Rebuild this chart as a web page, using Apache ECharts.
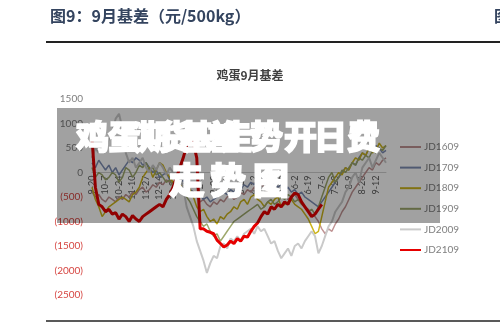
<!DOCTYPE html>
<html><head><meta charset="utf-8">
<script src="https://cdn.jsdelivr.net/npm/echarts@6/dist/echarts.min.js"></script>
<style>html,body{margin:0;padding:0;background:#fff}#c{width:500px;height:331px}</style>
</head><body><div id="c"></div>
<script>
const tickLabels = ['9-20','10-7','10-24','11-10','11-27','12-14','12-31','1-17','2-3','2-20','3-9','3-26','4-12','4-29','5-16','6-2','6-19','7-6','7-23','8-9','8-26','9-12'];
const pointsPerTick = 4;
const totalPoints = 88;
const seriesNames = ['JD1609','JD1709','JD1809','JD1909','JD2009','JD2109'];
const jd1609 = [-400,-500,-450,-550,-600,-500,-550,-600,-500,-550,-450,-500,-400,-450,-350,-300,-400,-350,-250,-300,-200,-250,-150,-200,-100,-150,-250,-300,-200,-350,-400,-500,-600,-550,-650,-700,-600,-650,-550,-600,-500,-450,-550,-500,-400,-450,-350,-400,-300,-350,-250,-300,-400,-350,-450,-400,-500,-450,-550,-500,-450,-550,-600,-700,-750,-850,-900,-1000,-1150,-1250,-1150,-1200,-1050,-950,-800,-700,-550,-400,-300,-200,-100,0,100,50,200,150,250,300];
const jd1709 = [200,100,250,150,50,150,0,100,-50,50,150,250,200,300,250,150,200,100,0,50,-100,-50,0,-150,-100,-200,-250,-150,-300,-350,-400,-500,-450,-550,-500,-600,-550,-500,-450,-400,-450,-350,-400,-300,-350,-250,-300,-200,-250,-150,-200,-100,-150,-250,-200,-300,-250,-350,-300,-400,-350,-450,-400,-500,-550,-600,-650,-700,-600,-500,-400,-300,-200,-100,0,100,50,200,150,300,400,350,500,450,550,500,400,450];
const jd1809 = [-300,-550,-700,-900,-800,-700,-650,-600,-550,-500,-550,-600,-450,-400,-300,-100,0,100,-100,50,200,150,0,-100,-200,-150,-250,-300,-200,-350,-500,-700,-800,-750,-900,-1000,-950,-1050,-900,-950,-850,-800,-700,-750,-600,-550,-650,-500,-450,-550,-600,-700,-600,-650,-550,-500,-700,-650,-600,-550,-650,-700,-750,-850,-950,-1100,-1250,-1200,-900,-600,-300,-200,-100,0,-50,100,50,200,300,250,400,350,500,400,450,600,500,550];
const jd1909 = [100,-100,0,-50,-150,-100,0,-50,-200,-100,100,50,-100,0,150,100,200,50,100,-50,0,-100,-200,-150,-300,-250,-350,-400,-500,-600,-750,-900,-1000,-1100,-1050,-1200,-1300,-1250,-1400,-1300,-1200,-1100,-1000,-950,-900,-850,-800,-750,-700,-650,-750,-700,-600,-550,-650,-600,-500,-550,-450,-500,-600,-550,-650,-700,-800,-750,-850,-700,-500,-300,-100,0,-200,-100,50,0,100,200,150,300,250,350,300,450,400,500,450,550];
const jd2009 = [300,500,400,600,450,700,800,1100,1200,900,400,200,300,100,200,300,100,0,150,50,200,100,-50,100,0,-150,-100,-300,-700,-900,-1100,-1400,-1600,-1800,-2050,-1850,-1700,-1750,-1500,-1450,-1550,-1350,-1400,-1300,-1400,-1250,-1200,-1150,-1250,-1100,-1200,-1150,-1300,-1450,-1400,-1600,-1750,-1650,-1550,-1700,-1500,-1450,-1550,-1400,-1300,-1200,-1300,-1650,-1500,-1300,-1100,-1000,-800,-700,-600,-400,-300,-100,0,-200,100,200,300,100,250,400,300,200];
const jd2109 = [700,-300,-650,-700,-800,-750,-850,-820,-950,-850,-900,-1000,-880,-950,-1000,-900,-850,-800,-750,-700,-650,-700,-550,-450,-300,-100,100,300,550,700,600,300,-1150,-1150,-1200,-1220,-1250,-1380,-1450,-1520,-1480,-1400,-1450,-1350,-1400,-1300,-1320,-1200,-1100,-1030,-900,-800,-850,-700,-750,-650,-700,-600,-650,-500,-420,-450,-600,-700,-800,-900,-850,-750,-650];
const seriesData = [jd1609, jd1709, jd1809, jd1909, jd2009, jd2109];
const colors = ['#c09494','#7d8db3','#cdb51c','#9ea86c','#cacaca','#e60000'];
const widths = [1.5,1.5,1.5,1.5,2,3];
const yTicks = {min:-2500, max:1500, interval:500};

const categories = [];
for (let i = 0; i < totalPoints; i++) {
  const k = i / pointsPerTick;
  categories.push(i % pointsPerTick === 0 && k < tickLabels.length ? tickLabels[k] : '');
}

const gridTop = 99, gridBottom = 36, plotH = 331 - gridTop - gridBottom;
const zeroOffset = -plotH * (0 - yTicks.min) / (yTicks.max - yTicks.min);

const chart = echarts.init(document.getElementById('c'), null, {renderer:'canvas'});
const white = '#ffffff';
const line1 = [['鸡',76],['蛋',108],['期',138],['货',158],['基',180],['差',206],['走',220],['势',250],['开',284],['日',314],['费',347]];
const line2 = [['走',169],['势',210],['图',253]];
const graphics = [
  {type:'text', left:50, top:8, style:{text:'图9：9月基差（元/500kg）', fill:'#34445f', font:'bold 16px "Noto Sans CJK SC"'}},
  {type:'text', left:494, top:8, style:{text:'图', fill:'#34445f', font:'bold 16px "Noto Sans CJK SC"'}},
  {type:'line', shape:{x1:46,y1:42,x2:500,y2:42}, style:{stroke:'#222',lineWidth:2}},
  {type:'line', shape:{x1:46,y1:321,x2:500,y2:321}, style:{stroke:'#222',lineWidth:1.5}},
  {type:'rect', shape:{x:57,y:108,width:383,height:115}, style:{fill:'rgba(0,0,0,0.37)'}, z:100}
];
line1.forEach(([t,x]) => graphics.push({type:'text', x:x, y:120, z:101, style:{text:t, fill:white, font:'900 33px "Noto Sans CJK SC"', stroke:white, lineWidth:1.5}}));
line2.forEach(([t,x]) => graphics.push({type:'text', x:x, y:162, z:101, style:{text:t, fill:white, font:'900 36px "Noto Sans CJK SC"', stroke:white, lineWidth:1.5}}));

chart.setOption({
  animation:false,
  title:{text:'鸡蛋9月基差', left:'center', top:64, textStyle:{fontSize:12, fontWeight:'bold', color:'#404040', fontFamily:'"Noto Sans CJK SC"'}},
  legend:{orient:'vertical', left:395, top:137, itemWidth:21, itemHeight:2, itemGap:10.6, icon:'rect',
    textStyle:{fontSize:10, color:'#7f7f7f', fontFamily:'Lato', padding:[0,0,0,-2]}, data:seriesNames},
  grid:{left:92, right:114, top:gridTop, bottom:gridBottom},
  xAxis:{type:'category', data:categories, boundaryGap:false, offset:zeroOffset,
    axisLine:{onZero:false, lineStyle:{color:'#d0d0d0'}}, axisTick:{show:false},
    axisLabel:{interval:0, rotate:90, fontSize:9, color:'#595959', fontFamily:'Lato', margin:3}},
  yAxis:{type:'value', min:yTicks.min, max:yTicks.max, interval:yTicks.interval, splitLine:{show:false},
    axisLine:{show:false}, axisTick:{show:false},
    axisLabel:{fontSize:10, fontFamily:'Lato', margin:9,
      color:v => v < 0 ? '#d64541' : '#7f7f7f',
      formatter:v => v < 0 ? '(' + (-v) + ')' : String(v)}},
  series: seriesNames.map((n,i) => ({name:n, type:'line', data:seriesData[i], showSymbol:false, symbol:'none',
    lineStyle:{color:colors[i], width:widths[i]}, itemStyle:{color:colors[i]}, z:2+i})),
  graphic: graphics
});
</script></body></html>
